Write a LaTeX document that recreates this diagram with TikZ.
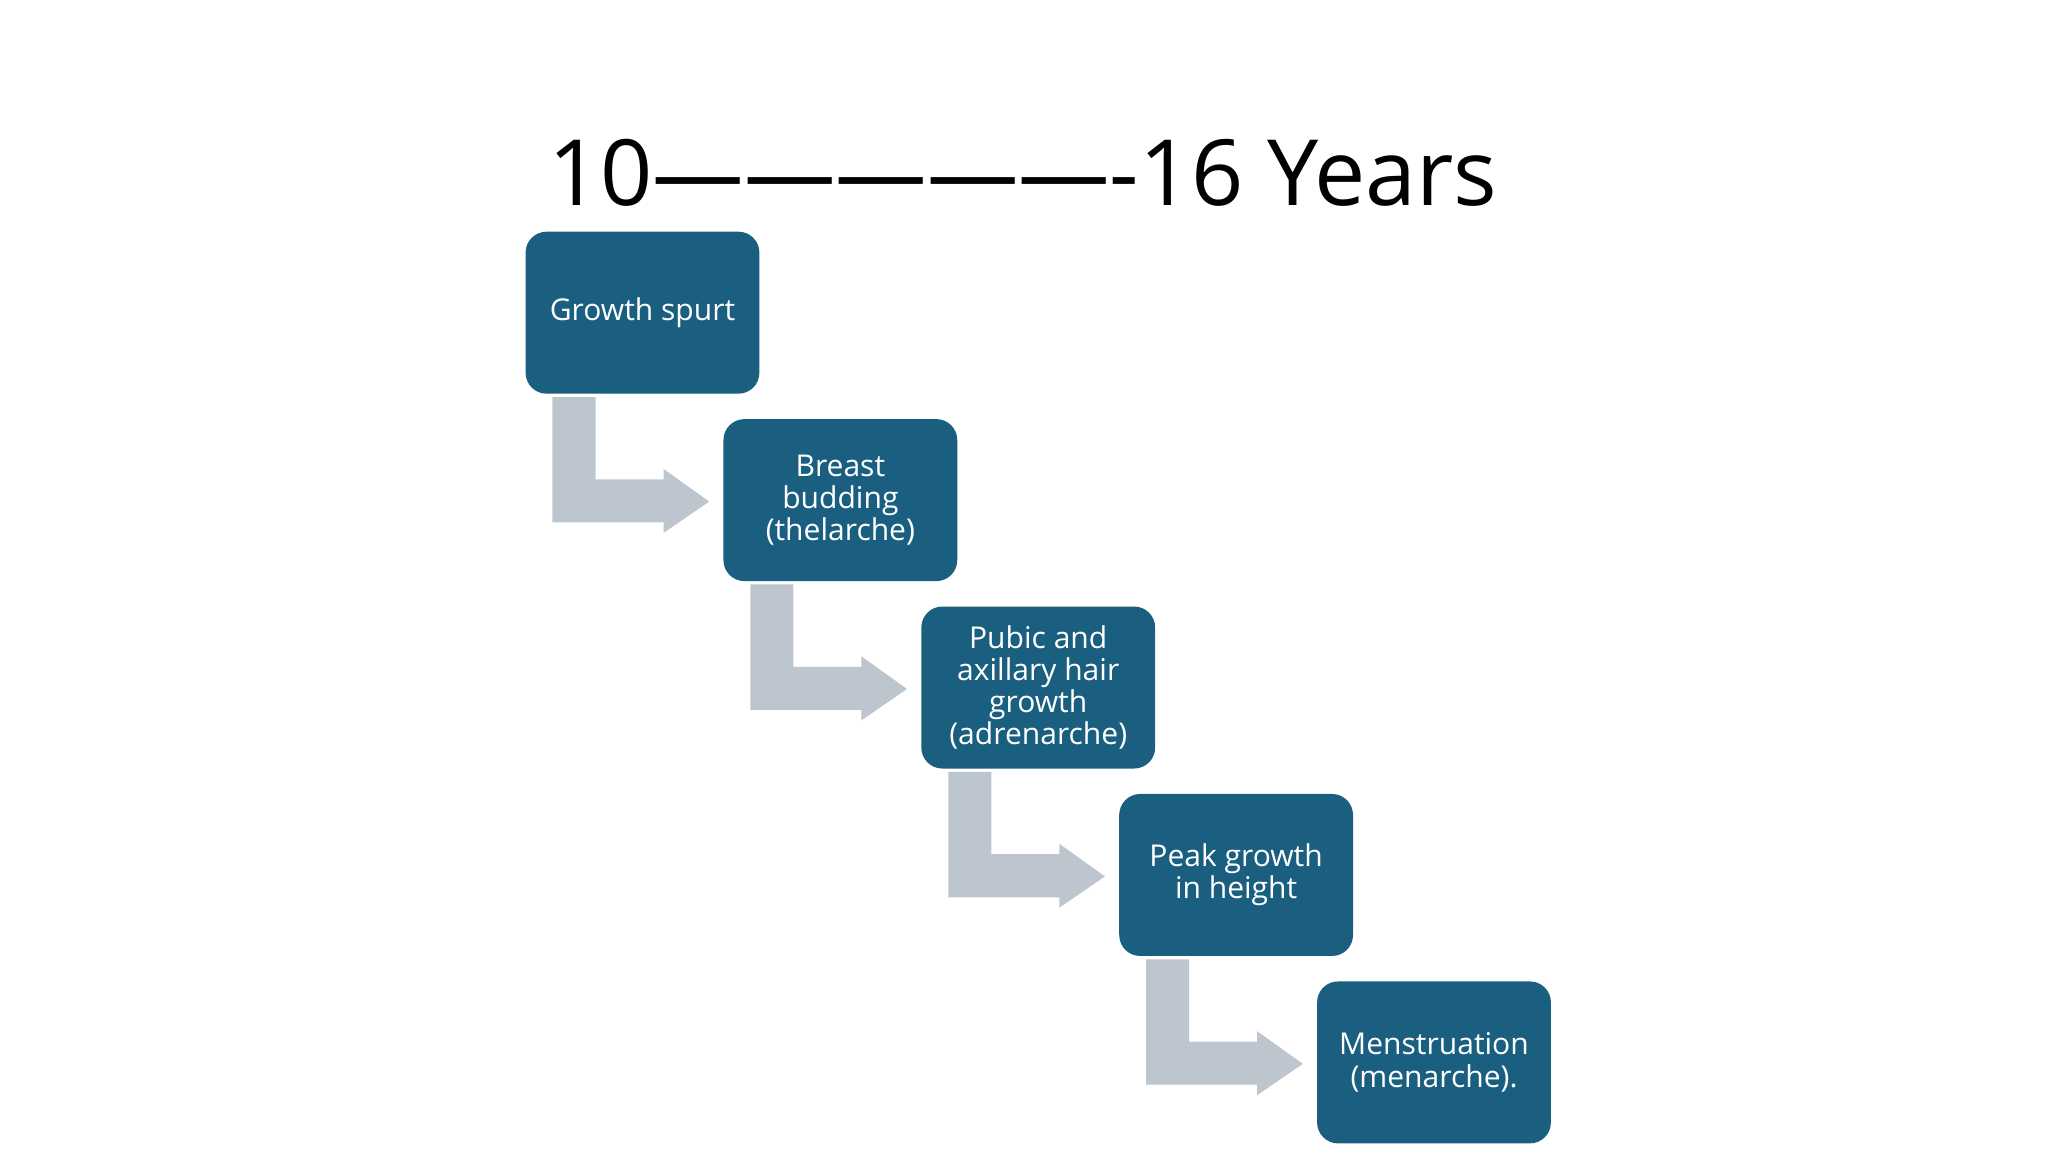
\documentclass[tikz,border=0pt]{standalone}
\usepackage{fontspec}
\setmainfont{Open Sans}
\definecolor{boxc}{HTML}{1A5F80}
\definecolor{arrc}{HTML}{BDC6CE}
\begin{document}
\begin{tikzpicture}[x=0.5pt,y=-0.5pt,
  stage/.style={fill=boxc,rounded corners=8pt,minimum width=89.5pt,minimum height=62pt,text=white,align=center,font=\fontsize{11.5}{12.3}\selectfont,inner sep=0pt,anchor=north west}]
\useasboundingbox (0,0) rectangle (1568,882);
\node[font=\fontsize{35}{40}\selectfont,anchor=base] (title) at (783,157) {10----------------16 Years};
\foreach \i/\t in {0/Growth spurt,1/{Breast\\budding\\(thelarche)},2/{Pubic and\\axillary hair\\growth\\(adrenarche)},3/{Peak growth\\in height},4/{Menstruation\\(menarche).}}{
  \node[stage] (b\i) at (402+151.5*\i,177+143.5*\i) {\t};
}
\foreach \i in {0,...,3}{
  \begin{scope}[shift={(151.5*\i,143.5*\i)}]
  \fill[arrc] (423,304) -- (456,304) -- (456,367) -- (508,367) -- (508,359) -- (543,384) -- (508,408) -- (508,400) -- (423,400) -- cycle;
  \end{scope}
}
\end{tikzpicture}
\end{document}
